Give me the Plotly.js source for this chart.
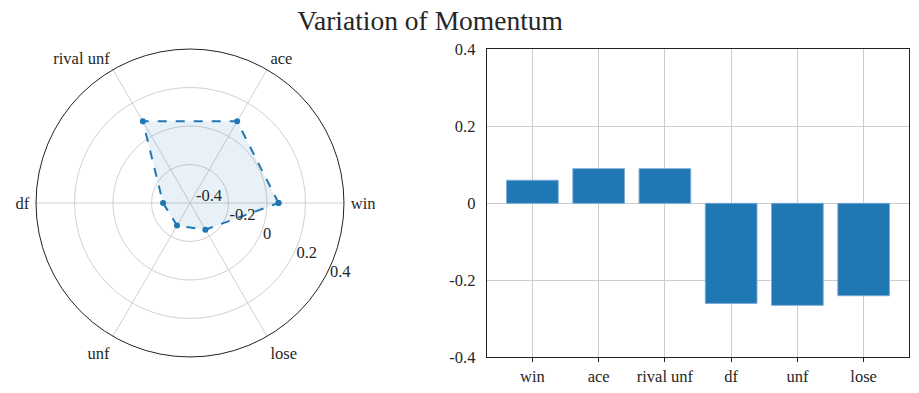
<!DOCTYPE html>
<html>
<head>
<meta charset="utf-8">
<script src="https://cdn.plot.ly/plotly-3.0.1.min.js"></script>
<style>html,body{margin:0;padding:0;background:#fff;}#chart{width:919px;height:393px;}</style>
</head>
<body>
<div id="chart"></div>
<script>
const categories = ["win", "ace", "rival unf", "df", "unf", "lose"];
const momentum = [0.06, 0.09, 0.09, -0.26, -0.265, -0.24];
const radialTicks = [-0.4, -0.2, 0, 0.2, 0.4];
const radialTickText = ["-0.4", "-0.2", "0", "0.2", "0.4"];
const yTicks = [-0.4, -0.2, 0, 0.2, 0.4];
const yTickText = ["-0.4", "-0.2", "0", "0.2", "0.4"];

const blue = "#1f77b4";
const serif = "'Liberation Serif', 'DejaVu Serif'";
const font = {family: serif, size: 16.5, color: "#262626"};

const radarTheta = categories.concat([categories[0]]);
const radarR = momentum.concat([momentum[0]]);

const traces = [
  {
    type: "scatterpolar",
    r: radarR,
    theta: radarTheta,
    mode: "lines+markers",
    fill: "toself",
    fillcolor: "rgba(31,119,180,0.1)",
    line: {color: blue, width: 2, dash: "dash"},
    marker: {color: blue, size: 6},
    subplot: "polar",
    showlegend: false,
    hoverinfo: "skip"
  },
  {
    type: "bar",
    x: categories,
    y: momentum,
    width: 0.78,
    marker: {color: blue, line: {color: "rgba(120,170,215,0.9)", width: 1}},
    xaxis: "x",
    yaxis: "y",
    showlegend: false
  }
];

const layout = {
  width: 919,
  height: 393,
  margin: {l: 0, r: 0, t: 0, b: 0},
  paper_bgcolor: "#fff",
  plot_bgcolor: "#fff",
  font: font,
  title: {
    text: "Variation of Momentum",
    font: {family: serif, size: 27.5, color: "#262626"},
    x: 0.468, xanchor: "center", xref: "paper",
    y: 0.948, yanchor: "middle", yref: "paper"
  },
  polar: {
    domain: {x: [0.0392, 0.3743], y: [0.0916, 0.8753]},
    bgcolor: "#fff",
    angularaxis: {
      type: "category",
      categoryarray: categories,
      direction: "counterclockwise",
      rotation: 0,
      showline: true,
      linecolor: "#222",
      linewidth: 1,
      gridcolor: "#d0d0d0",
      gridwidth: 1,
      ticks: "outside",
      ticklen: 3,
      tickcolor: "rgba(0,0,0,0)",
      tickfont: font
    },
    radialaxis: {
      range: [-0.4, 0.4],
      tickvals: radialTicks,
      ticktext: radialTickText,
      angle: -29.5,
      side: "counterclockwise",
      tickangle: -29.5,
      showline: false,
      ticks: "",
      gridcolor: "#d0d0d0",
      gridwidth: 1,
      tickfont: font
    }
  },
  xaxis: {
    domain: [0.5296, 0.9895],
    anchor: "y",
    range: [-0.69, 5.69],
    showgrid: true,
    gridcolor: "#cccccc",
    showline: true,
    linecolor: "#222",
    linewidth: 1,
    mirror: true,
    ticks: "outside",
    ticklen: 4,
    tickcolor: "#222",
    tickfont: font,
    zeroline: false
  },
  yaxis: {
    domain: [0.0908, 0.8745],
    anchor: "x",
    range: [-0.4, 0.4],
    tickvals: yTicks,
    ticktext: yTickText,
    showgrid: true,
    gridcolor: "#cccccc",
    showline: true,
    linecolor: "#222",
    linewidth: 1,
    mirror: true,
    ticks: "",
    ticklabelstandoff: 7,
    tickfont: font,
    zeroline: false
  },
  bargap: 0.22
};

Plotly.newPlot("chart", traces, layout, {displayModeBar: false, staticPlot: true});
</script>
</body>
</html>
